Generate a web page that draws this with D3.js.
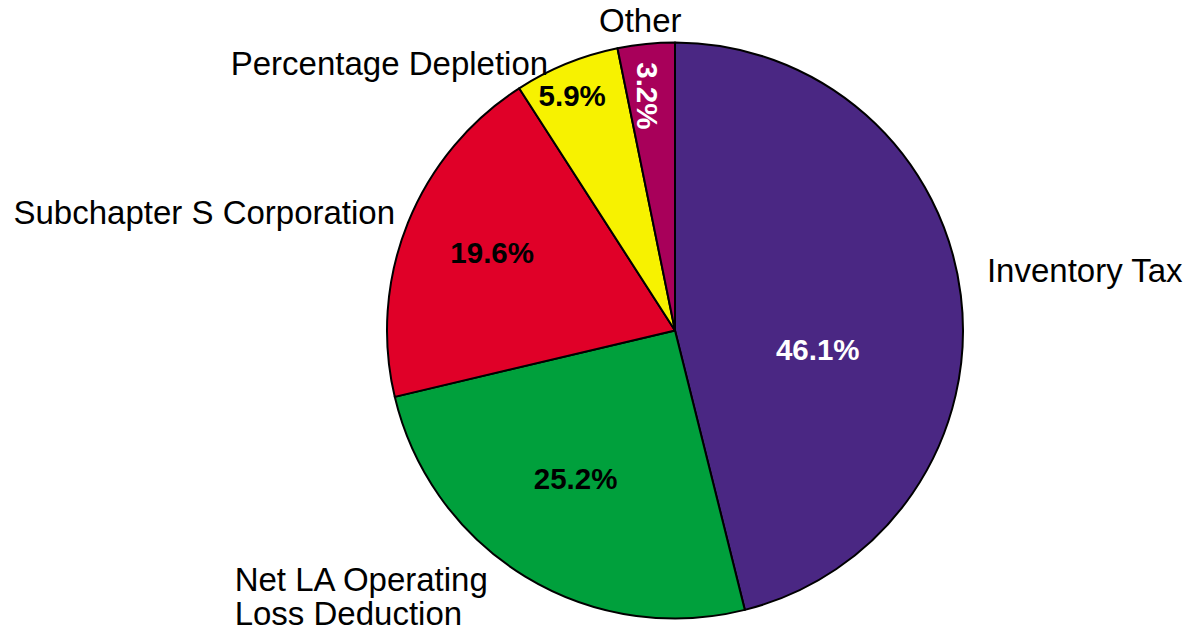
<!DOCTYPE html>
<html>
<head>
<meta charset="utf-8">
<script src="https://cdn.jsdelivr.net/npm/d3@7"></script>
<style>
  body { margin: 0; background: #fff; }
  text { font-family: "Liberation Sans", Arial, sans-serif; }
</style>
</head>
<body>
<script>
// slice data, clockwise from 12 o'clock
var categories = ["Inventory Tax", "Net LA Operating Loss Deduction", "Subchapter S Corporation", "Percentage Depletion", "Other"];
var shares = [46.1, 25.2, 19.6, 5.9, 3.2];
var sliceColors = ["#4a2783", "#00a03c", "#e00028", "#f7f200", "#a8005a"];
var valueTextColors = ["#fff", "#000", "#000", "#000", "#fff"];

// label placement (polar, degrees clockwise from top, radius in units of R)
var nameLayout = {
  "Inventory Tax": {ang: 79.1, rad: 1.103, anchor: "start", lines: ["Inventory Tax"]},
  "Net LA Operating Loss Deduction": {ang: 240.6, rad: 1.755, anchor: "start", lines: ["Net LA Operating", "Loss Deduction"]},
  "Subchapter S Corporation": {ang: 293.0, rad: 1.056, anchor: "end", lines: ["Subchapter S Corporation"]},
  "Percentage Depletion": {ang: 334.6, rad: 1.027, anchor: "end", lines: ["Percentage Depletion"]},
  "Other": {ang: 353.6, rad: 1.083, anchor: "middle", lines: ["Other"]}
};
var valueLayout = [
  {rad: 0.50, angShift: 14.6, rot: 0},
  {rad: 0.62, angShift: 2.5, rot: 0},
  {rad: 0.69, angShift: 1.1, rot: 0},
  {rad: 0.89, angShift: -1.5, rot: 0},
  {rad: 0.82, angShift: -0.8, rot: 90}
];

var width = 1192, height = 631,
    cx = 675, cy = 330.5, R = 288;

var svg = d3.select("body").append("svg")
    .attr("width", width)
    .attr("height", height);

var g = svg.append("g")
    .attr("transform", "translate(" + cx + "," + cy + ")");

var pie = d3.pie().sort(null).value(function(d) { return d; });
var arcs = pie(shares);

var arc = d3.arc().innerRadius(0).outerRadius(R);

g.selectAll("path.slice")
    .data(arcs)
  .enter().append("path")
    .attr("class", "slice")
    .attr("d", arc)
    .attr("fill", function(d, i) { return sliceColors[i]; })
    .attr("stroke", "#000")
    .attr("stroke-width", 2)
    .attr("stroke-linejoin", "round");

function polar(angDeg, r) {
  var a = angDeg * Math.PI / 180;
  return [r * Math.sin(a), -r * Math.cos(a)];
}

// percentage labels
g.selectAll("text.val")
    .data(arcs)
  .enter().append("text")
    .attr("class", "val")
    .attr("transform", function(d, i) {
      var mid = (d.startAngle + d.endAngle) / 2 * 180 / Math.PI + valueLayout[i].angShift;
      var p = polar(mid, valueLayout[i].rad * R);
      return "translate(" + p[0] + "," + p[1] + ") rotate(" + valueLayout[i].rot + ")";
    })
    .attr("text-anchor", "middle")
    .attr("dy", "0.36em")
    .style("font-size", "29.5px")
    .style("font-weight", "bold")
    .attr("fill", function(d, i) { return valueTextColors[i]; })
    .text(function(d, i) { return shares[i].toFixed(1) + "%"; });

// category labels
categories.forEach(function(name) {
  var L = nameLayout[name];
  var p = polar(L.ang, L.rad * R);
  var t = g.append("text")
      .attr("x", p[0])
      .attr("y", p[1])
      .attr("text-anchor", L.anchor)
      .style("font-size", "33px")
      .attr("fill", "#000");
  L.lines.forEach(function(line, k) {
    t.append("tspan")
      .attr("x", p[0])
      .attr("dy", k === 0 ? "0.36em" : "1.06em")
      .text(line);
  });
});
</script>
</body>
</html>
